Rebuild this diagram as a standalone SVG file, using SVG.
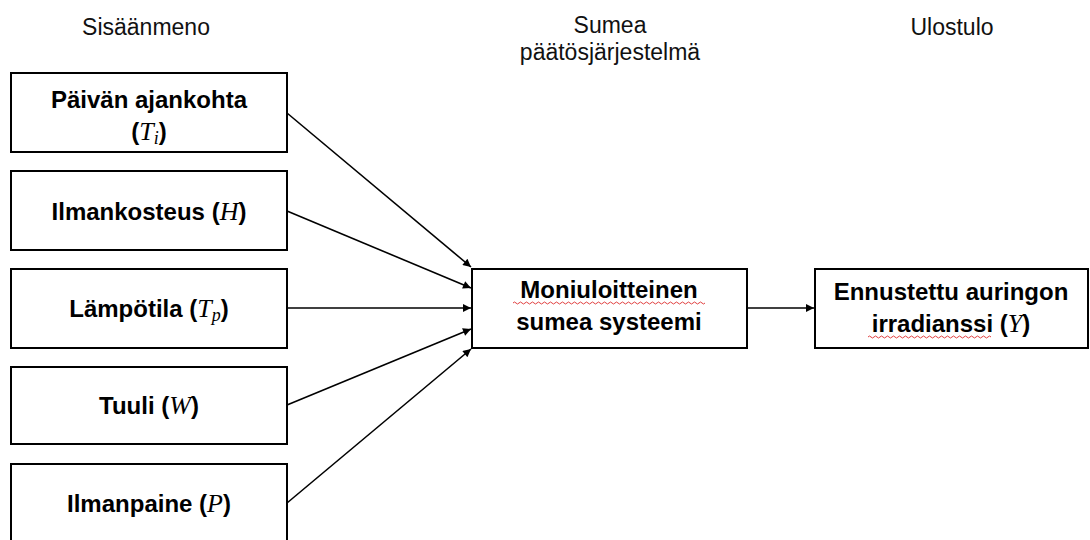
<svg xmlns="http://www.w3.org/2000/svg" width="1090" height="540" viewBox="0 0 1090 540">
  <defs>
    <marker id="arrow" viewBox="0 0 10 10" refX="10" refY="5" markerWidth="10" markerHeight="8" markerUnits="userSpaceOnUse" orient="auto">
      <path d="M0,0 L10,5 L0,10 z" fill="#000"/>
    </marker>
    <style>
      .box { fill: #fff; stroke: #000; stroke-width: 2; }
      .lbl { font-family: "Liberation Sans", Arial, sans-serif; font-size: 24px; font-weight: bold; fill: #000; text-anchor: middle; }
      .hdr { font-family: "Liberation Sans", Arial, sans-serif; font-size: 23px; fill: #111; text-anchor: middle; }
      .math { font-family: "Liberation Serif", "Times New Roman", serif; font-style: italic; font-weight: normal; font-size: 26px; }
      .sub { font-size: 18px; }
      .edge { stroke: #000; stroke-width: 1.6; fill: none; marker-end: url(#arrow); }
      .spell { stroke: #e04040; stroke-width: 1; fill: none; }
    </style>
  </defs>

  <!-- column headings -->
  <g id="headers">
    <text class="hdr" x="146" y="35">Sisäänmeno</text>
    <text class="hdr" x="610" y="33">Sumea</text>
    <text class="hdr" x="610" y="60">päätösjärjestelmä</text>
    <text class="hdr" x="952" y="35">Ulostulo</text>
  </g>

  <!-- connectors -->
  <g id="connectors">
    <line class="edge" x1="287" y1="113" x2="471" y2="267"/>
    <line class="edge" x1="287" y1="211" x2="471" y2="288"/>
    <line class="edge" x1="287" y1="308" x2="471" y2="308"/>
    <line class="edge" x1="287" y1="405" x2="471" y2="329"/>
    <line class="edge" x1="287" y1="503" x2="471" y2="349"/>
    <line class="edge" x1="747" y1="308" x2="814" y2="308"/>
  </g>

  <!-- inputs -->
  <g id="node-time">
    <rect class="box" x="11" y="73" width="276" height="79"/>
    <text class="lbl" x="149" y="108">Päivän ajankohta</text>
    <text class="lbl" x="149" y="140">(<tspan class="math">T</tspan><tspan class="math sub" dy="4">i</tspan><tspan dy="-4">)</tspan></text>
  </g>
  <g id="node-humidity">
    <rect class="box" x="11" y="171" width="276" height="79"/>
    <text class="lbl" x="149" y="220">Ilmankosteus (<tspan class="math">H</tspan>)</text>
  </g>
  <g id="node-temperature">
    <rect class="box" x="11" y="269" width="276" height="79"/>
    <text class="lbl" x="149" y="317">Lämpötila (<tspan class="math">T</tspan><tspan class="math sub" dy="4">p</tspan><tspan dy="-4">)</tspan></text>
  </g>
  <g id="node-wind">
    <rect class="box" x="11" y="367" width="276" height="77"/>
    <text class="lbl" x="149" y="414">Tuuli (<tspan class="math">W</tspan>)</text>
  </g>
  <g id="node-pressure">
    <rect class="box" x="11" y="464" width="276" height="80"/>
    <text class="lbl" x="149" y="512">Ilmanpaine (<tspan class="math">P</tspan>)</text>
  </g>

  <!-- fuzzy system -->
  <g id="node-fuzzy">
    <rect class="box" x="472" y="269" width="275" height="79"/>
    <text class="lbl" x="609" y="298">Moniuloitteinen</text>
    <text class="lbl" x="609" y="330">sumea systeemi</text>
    <path class="spell" d="M513,303 q1.5,-2 3,0 t3,0 t3,0 t3,0 t3,0 t3,0 t3,0 t3,0 t3,0 t3,0 t3,0 t3,0 t3,0 t3,0 t3,0 t3,0 t3,0 t3,0 t3,0 t3,0 t3,0 t3,0 t3,0 t3,0 t3,0 t3,0 t3,0 t3,0 t3,0 t3,0 t3,0 t3,0 t3,0 t3,0 t3,0 t3,0 t3,0 t3,0 t3,0 t3,0 t3,0 t3,0 t3,0 t3,0 t3,0 t3,0 t3,0 t3,0 t3,0 t3,0 t3,0 t3,0 t3,0 t3,0 t3,0 t3,0 t3,0 t3,0 t3,0 t3,0 t3,0 t3,0 t3,0 t3,0"/>
  </g>

  <!-- output -->
  <g id="node-output">
    <rect class="box" x="815" y="269" width="273" height="79"/>
    <text class="lbl" x="951" y="300">Ennustettu auringon</text>
    <text class="lbl" x="951" y="332">irradianssi (<tspan class="math">Y</tspan>)</text>
    <path class="spell" d="M868,337 q1.5,-2 3,0 t3,0 t3,0 t3,0 t3,0 t3,0 t3,0 t3,0 t3,0 t3,0 t3,0 t3,0 t3,0 t3,0 t3,0 t3,0 t3,0 t3,0 t3,0 t3,0 t3,0 t3,0 t3,0 t3,0 t3,0 t3,0 t3,0 t3,0 t3,0 t3,0 t3,0 t3,0 t3,0 t3,0 t3,0 t3,0 t3,0 t3,0 t3,0 t3,0 t3,0"/>
  </g>
</svg>
